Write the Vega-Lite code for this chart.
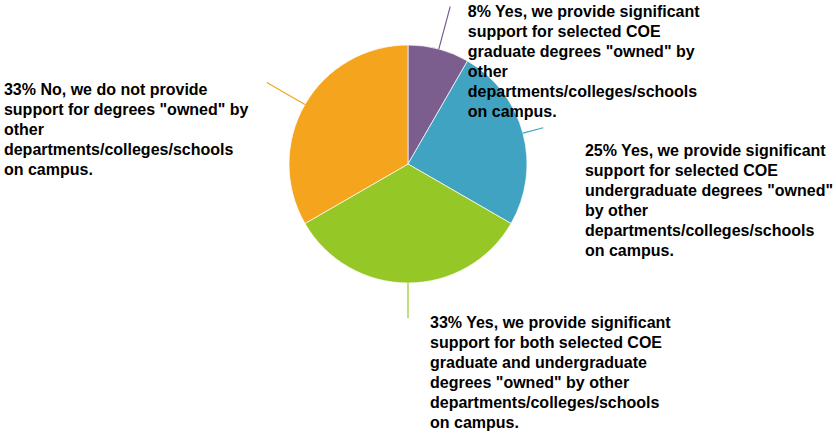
{
  "$schema": "https://vega.github.io/schema/vega-lite/v6.json",
  "width": 816,
  "height": 328,
  "autosize": {"type": "none"},
  "padding": {"left": 0, "top": 0, "right": 20, "bottom": 107},
  "background": "white",
  "config": {
    "view": {"stroke": null},
    "text": {"font": "Liberation Sans", "fontSize": 16, "fontWeight": "bold", "lineHeight": 20}
  },
  "data": {
    "values": [
      {"option": 1, "answer": "Yes, we provide significant support for selected COE graduate degrees \"owned\" by other departments/colleges/schools on campus.", "count": 1, "label": "8% Yes, we provide significant\nsupport for selected COE\ngraduate degrees \"owned\" by\nother\ndepartments/colleges/schools\non campus."},
      {"option": 2, "answer": "Yes, we provide significant support for selected COE undergraduate degrees \"owned\" by other departments/colleges/schools on campus.", "count": 3, "label": "25% Yes, we provide significant\nsupport for selected COE\nundergraduate degrees \"owned\"\nby other\ndepartments/colleges/schools\non campus."},
      {"option": 3, "answer": "Yes, we provide significant support for both selected COE graduate and undergraduate degrees \"owned\" by other departments/colleges/schools on campus.", "count": 4, "label": "33% Yes, we provide significant\nsupport for both selected COE\ngraduate and undergraduate\ndegrees \"owned\" by other\ndepartments/colleges/schools\non campus."},
      {"option": 4, "answer": "No, we do not provide support for degrees \"owned\" by other departments/colleges/schools on campus.", "count": 4, "label": "33% No, we do not provide\nsupport for degrees \"owned\" by\nother\ndepartments/colleges/schools\non campus."}
    ]
  },
  "encoding": {
    "theta": {"field": "count", "type": "quantitative", "stack": true},
    "order": {"field": "option", "type": "quantitative"},
    "color": {
      "field": "option",
      "type": "nominal",
      "scale": {"domain": [1, 2, 3, 4], "range": ["#7B5E8E", "#41A3C2", "#95C826", "#F4A41D"]},
      "legend": null
    }
  },
  "layer": [
    {"mark": {"type": "arc", "radius": 119, "stroke": "white", "strokeWidth": 0.7}},
    {
      "mark": {"type": "arc", "radius": 163, "radius2": 119, "padAngle": 3.1416, "fillOpacity": 0, "strokeWidth": 1.2},
      "encoding": {
        "stroke": {"field": "option", "type": "nominal", "scale": {"domain": [1, 2, 3, 4], "range": ["#7B5E8E", "#41A3C2", "#95C826", "#F4A41D"]}, "legend": null},
        "strokeOpacity": {"condition": {"test": "datum.option === 1 || datum.option === 4", "value": 1}, "value": 0}
      }
    },
    {
      "mark": {"type": "arc", "radius": 154, "radius2": 119, "padAngle": 3.1416, "fillOpacity": 0, "strokeWidth": 1.2},
      "encoding": {
        "stroke": {"field": "option", "type": "nominal", "scale": {"domain": [1, 2, 3, 4], "range": ["#7B5E8E", "#41A3C2", "#95C826", "#F4A41D"]}, "legend": null},
        "strokeOpacity": {"condition": {"test": "datum.option === 3", "value": 1}, "value": 0}
      }
    },
    {
      "mark": {"type": "arc", "radius": 140, "radius2": 119, "padAngle": 3.1416, "fillOpacity": 0, "strokeWidth": 1.2},
      "encoding": {
        "stroke": {"field": "option", "type": "nominal", "scale": {"domain": [1, 2, 3, 4], "range": ["#7B5E8E", "#41A3C2", "#95C826", "#F4A41D"]}, "legend": null},
        "strokeOpacity": {"condition": {"test": "datum.option === 2", "value": 1}, "value": 0}
      }
    },
    {
      "mark": {"type": "text", "radius": 119, "align": "left", "baseline": "alphabetic", "lineBreak": "\n", "dx": 29, "dy": -32},
      "encoding": {
        "color": {"value": "#000000"},
        "detail": {"field": "option", "type": "nominal"},
        "text": {"condition": {"test": "datum.option === 1", "field": "label"}, "value": ""}
      }
    },
    {
      "mark": {"type": "text", "radius": 119, "align": "left", "baseline": "alphabetic", "lineBreak": "\n", "dx": 62, "dy": 23},
      "encoding": {
        "color": {"value": "#000000"},
        "detail": {"field": "option", "type": "nominal"},
        "text": {"condition": {"test": "datum.option === 2", "field": "label"}, "value": ""}
      }
    },
    {
      "mark": {"type": "text", "radius": 119, "align": "left", "baseline": "alphabetic", "lineBreak": "\n", "dx": 22, "dy": 45},
      "encoding": {
        "color": {"value": "#000000"},
        "detail": {"field": "option", "type": "nominal"},
        "text": {"condition": {"test": "datum.option === 3", "field": "label"}, "value": ""}
      }
    },
    {
      "mark": {"type": "text", "radius": 119, "align": "left", "baseline": "alphabetic", "lineBreak": "\n", "dx": -301, "dy": -10},
      "encoding": {
        "color": {"value": "#000000"},
        "detail": {"field": "option", "type": "nominal"},
        "text": {"condition": {"test": "datum.option === 4", "field": "label"}, "value": ""}
      }
    }
  ]
}
